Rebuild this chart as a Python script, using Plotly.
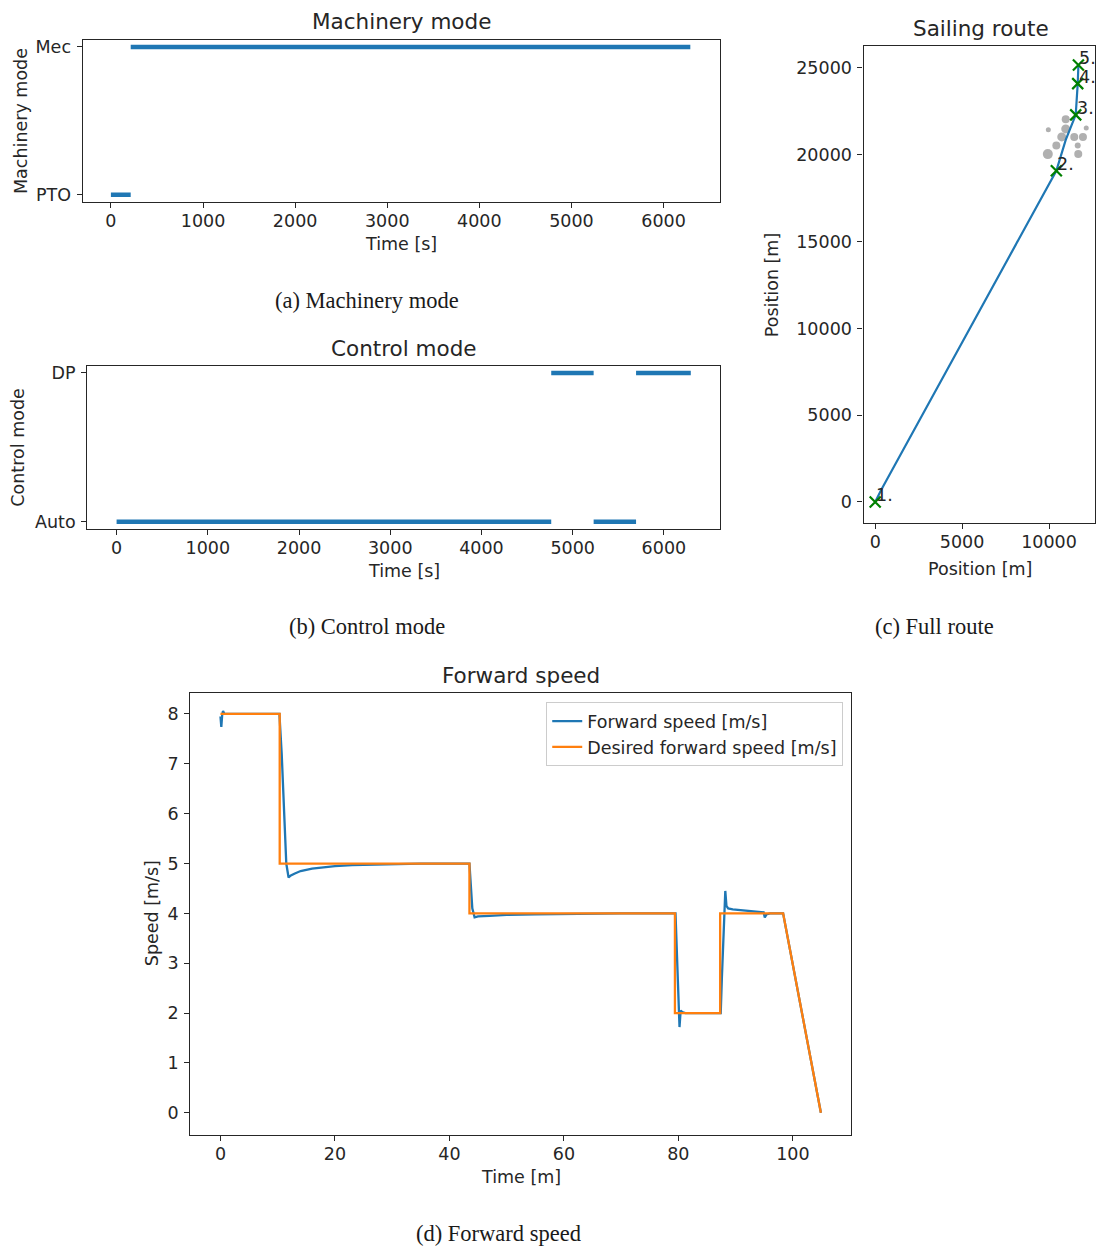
import plotly.graph_objects as go

# ---------------- data ----------------
mach_start = [0, 215]
mach_end = [215, 6290]
mach_mode = ["PTO", "Mec"]
mach_categories = ["PTO", "Mec"]

ctrl_start = [0, 4765, 5230, 5695]
ctrl_end = [4765, 5230, 5695, 6295]
ctrl_mode = ["Auto", "DP", "Auto", "DP"]
ctrl_categories = ["Auto", "DP"]

route_x = [0, 350, 10420, 10960, 11535, 11620, 11650, 11690]
route_y = [0, 700, 19080, 20860, 22300, 23300, 24100, 25170]
stop_x = [0, 10420, 11535, 11650, 11690]
stop_y = [0, 19080, 22300, 24100, 25170]
stop_labels = ["1.", "2.", "3.", "4.", "5."]
obst_x = [10960, 9960, 10960, 10730, 11450, 11950, 12140, 10420, 11650, 9930, 11680]
obst_y = [22050, 21440, 21490, 21030, 21030, 21030, 21550, 20530, 20530, 20040, 20040]
obst_size = [8, 5, 9, 9, 8, 8, 5, 8, 6, 10, 8]

speed_time = [0, 0.15, 0.3, 0.45, 0.7, 1.2, 10.3, 10.7, 11.1, 11.5, 11.9, 12.3,
              13, 14, 16, 18, 20, 23, 26, 30, 35, 43.5, 43.7, 44.0, 44.4, 45, 47,
              50, 55, 60, 70, 79.5, 79.7, 80.0, 80.2, 80.4, 80.7, 81.2, 84, 87.4,
              87.6, 87.9, 88.2, 88.4, 88.7, 89.5, 92, 94.9, 95.1, 95.4, 96, 98.3, 104.9]
speed_vals = [7.95, 7.74, 7.98, 8.06, 8.0, 8.0, 8.0, 7.2, 6.0, 5.0, 4.72, 4.76,
              4.8, 4.85, 4.9, 4.93, 4.95, 4.97, 4.98, 4.99, 5.0, 5.0, 4.6, 4.1, 3.92,
              3.94, 3.95, 3.97, 3.98, 3.99, 4.0, 4.0, 3.4, 2.3, 1.72, 2.05, 2.02, 2.0,
              2.0, 2.0, 2.7, 3.7, 4.45, 4.15, 4.1, 4.08, 4.05, 4.02, 3.92, 3.98, 4.0,
              4.0, 0.0]
desired_time = [0, 10.35, 10.35, 43.5, 43.5, 79.4, 79.4, 87.3, 87.3, 98.3, 104.9]
desired_vals = [8, 8, 5, 5, 4, 4, 2, 2, 4, 4, 0]

# ---------------- layout helpers ----------------
W, H = 1096, 1249
def fx(px):
    return px / W
def fy(py):
    return 1 - py / H

BLUE = "#1f77b4"
ORANGE = "#ff7f0e"
INK = "#262626"
FONT = "DejaVu Sans"
TICK = 17.5
TITLE = 21.5
CAP = 22.5

def seg_xy(starts, ends, modes):
    xs, ys = [], []
    for s, e, m in zip(starts, ends, modes):
        xs += [s, e, None]
        ys += [m, m, None]
    return xs, ys

fig = go.Figure()

mx, my = seg_xy(mach_start, mach_end, mach_mode)
fig.add_trace(go.Scatter(x=mx, y=my, mode="lines", line=dict(color=BLUE, width=4.5),
                         xaxis="x", yaxis="y", showlegend=False))
cx, cy = seg_xy(ctrl_start, ctrl_end, ctrl_mode)
fig.add_trace(go.Scatter(x=cx, y=cy, mode="lines", line=dict(color=BLUE, width=4.5),
                         xaxis="x2", yaxis="y2", showlegend=False))

fig.add_trace(go.Scatter(x=obst_x, y=obst_y, mode="markers",
                         marker=dict(color="#8f8f8f", size=obst_size, line=dict(width=0)),
                         xaxis="x3", yaxis="y3", showlegend=False))
fig.add_trace(go.Scatter(x=route_x, y=route_y, mode="lines", line=dict(color=BLUE, width=2.2),
                         xaxis="x3", yaxis="y3", showlegend=False))
fig.add_trace(go.Scatter(x=stop_x, y=stop_y, mode="markers",
                         marker=dict(symbol="x-thin", size=11, color="green",
                                     line=dict(color="green", width=2.2)),
                         xaxis="x3", yaxis="y3", showlegend=False))

fig.add_trace(go.Scatter(x=speed_time, y=speed_vals, mode="lines", name="Forward speed [m/s]",
                         line=dict(color=BLUE, width=2.3), xaxis="x4", yaxis="y4"))
fig.add_trace(go.Scatter(x=desired_time, y=desired_vals, mode="lines",
                         name="Desired forward speed [m/s]",
                         line=dict(color=ORANGE, width=2.3), xaxis="x4", yaxis="y4"))

axis_common = dict(showline=True, mirror=True, linecolor=INK, linewidth=1.2,
                   ticks="outside", ticklen=5, tickwidth=1.2, tickcolor=INK,
                   showgrid=False, zeroline=False,
                   tickfont=dict(family=FONT, size=TICK, color=INK))
xax = dict(axis_common, ticklabelstandoff=-2)
yax = dict(axis_common, ticklabelstandoff=2)

fig.update_layout(
    width=W, height=H, margin=dict(l=0, r=0, t=0, b=0),
    paper_bgcolor="white", plot_bgcolor="white",
    font=dict(family=FONT, color=INK),
    xaxis=dict(domain=[fx(82.7), fx(721)], range=[-307, 6616], anchor="y",
               tickvals=[0, 1000, 2000, 3000, 4000, 5000, 6000], tickformat="d", **xax),
    yaxis=dict(domain=[fy(201), fy(37.7)], anchor="x", type="category",
               categoryorder="array", categoryarray=mach_categories,
               range=[-0.05, 1.05], **yax),
    xaxis2=dict(domain=[fx(87.3), fx(721)], range=[-322, 6619], anchor="y2",
                tickvals=[0, 1000, 2000, 3000, 4000, 5000, 6000], tickformat="d", **xax),
    yaxis2=dict(domain=[fy(529.3), fy(365)], anchor="x2", type="category",
                categoryorder="array", categoryarray=ctrl_categories,
                range=[-0.05, 1.05], **yax),
    xaxis3=dict(domain=[fx(864.3), 1.0], range=[-672, 12644], anchor="y3",
                tickvals=[0, 5000, 10000], tickformat="d", **xax),
    yaxis3=dict(domain=[fy(523), fy(44.3)], range=[-1205, 26260], anchor="x3",
                tickvals=[0, 5000, 10000, 15000, 20000, 25000], tickformat="d", **yax),
    xaxis4=dict(domain=[fx(190.3), fx(852)], range=[-5.3, 110.2], anchor="y4",
                tickvals=[0, 20, 40, 60, 80, 100], **xax),
    yaxis4=dict(domain=[fy(1137.3), fy(693.3)], range=[-0.44, 8.43], anchor="x4",
                tickvals=[0, 1, 2, 3, 4, 5, 6, 7, 8], **yax),
    legend=dict(x=fx(844), xanchor="right", y=fy(703), yanchor="top",
                bgcolor="white", bordercolor="#cccccc", borderwidth=1,
                font=dict(family=FONT, size=TICK, color=INK)),
)

annotations = []
def txt(text, x, y, size, family=FONT, angle=0, color=INK):
    annotations.append(dict(text=text, x=fx(x), y=fy(y), xref="paper", yref="paper",
                            showarrow=False, xanchor="center", yanchor="middle",
                            textangle=angle, font=dict(family=family, size=size, color=color)))

# titles
txt("Machinery mode", 401.8, 20, TITLE)
txt("Control mode", 404, 348, TITLE)
txt("Sailing route", 982, 27, TITLE)
txt("Forward speed", 521, 676, TITLE)
# axis labels
txt("Time [s]", 401.8, 243, TICK)
txt("Time [s]", 404, 571, TICK)
txt("Position [m]", 981, 569, TICK)
txt("Time [m]", 521, 1180, TICK)
txt("Machinery mode", 20.5, 119, TICK, angle=-90)
txt("Control mode", 18.5, 447, TICK, angle=-90)
txt("Position [m]", 773, 284, TICK, angle=-90)
txt("Speed [m/s]", 152, 915, TICK, angle=-90)
# captions
serif = "Liberation Serif"
txt("(a) Machinery mode", 367, 300, CAP, family=serif, color="#1a1a1a")
txt("(b) Control mode", 367, 627, CAP, family=serif, color="#1a1a1a")
txt("(c) Full route", 935, 627, CAP, family=serif, color="#1a1a1a")
txt("(d) Forward speed", 499, 1236, CAP, family=serif, color="#1a1a1a")

# stop labels
for sx, sy, lab in zip(stop_x, stop_y, stop_labels):
    annotations.append(dict(text=lab, x=sx, y=sy, xref="x3", yref="y3", showarrow=False,
                            xanchor="left", yanchor="bottom", xshift=-1, yshift=-5,
                            font=dict(family=FONT, size=TICK, color=INK)))

fig.update_layout(annotations=annotations)
fig.write_html(
    "out.html",
    config={"displayModeBar": False},
    post_script=("document.body.style.margin='0';"
                 "document.body.style.overflow='hidden';"
                 "document.documentElement.style.overflow='hidden';"),
)
